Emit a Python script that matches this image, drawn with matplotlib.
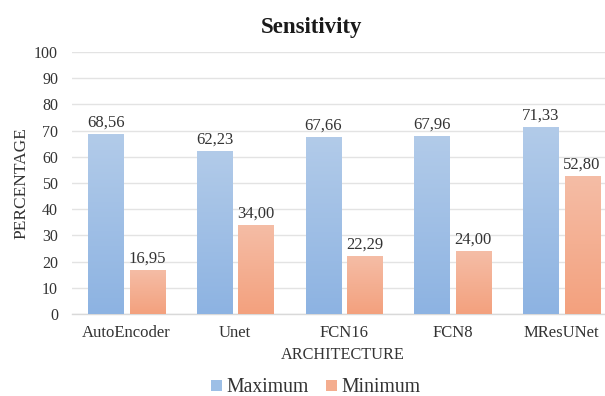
import numpy as np
import matplotlib
matplotlib.use("Agg")
import matplotlib.pyplot as plt
from matplotlib.patches import Patch

plt.rcParams['font.family'] = ['Liberation Serif', 'DejaVu Serif']

architectures = ['AutoEncoder', 'Unet', 'FCN16', 'FCN8', 'MResUNet']
maximum = [68.56, 62.23, 67.66, 67.96, 71.33]
minimum = [16.95, 34.00, 22.29, 24.00, 52.80]
series_names = ['Maximum', 'Minimum']

# gradient top / bottom colours, like the Excel fill
blue_top, blue_bot = '#b2cbe9', '#8db3e2'
orng_top, orng_bot = '#f5bda6', '#f3a17e'

W, H = 605, 396
fig = plt.figure(figsize=(W / 100, H / 100), dpi=100)
ax = fig.add_axes([72 / W, 82 / H, 533 / W, 262 / H])

x = np.arange(len(architectures))
w = 0.322
off = 0.19

def grad_bars(xpos, vals, top, bot):
    bars = ax.bar(xpos, vals, w, color='none', edgecolor='none', zorder=3)
    c1 = np.array(matplotlib.colors.to_rgb(top))
    c2 = np.array(matplotlib.colors.to_rgb(bot))
    t = np.linspace(0, 1, 64)[:, None]
    img = (c1 * (1 - t) + c2 * t)[:, None, :]
    for b in bars:
        x0, y0 = b.get_x(), b.get_y()
        im = ax.imshow(img, extent=[x0, x0 + b.get_width(), y0, y0 + b.get_height()],
                       aspect='auto', zorder=3, origin='upper', interpolation='bilinear')
        im.set_clip_path(b)
    return bars

grad_bars(x - off, maximum, blue_top, blue_bot)
grad_bars(x + off, minimum, orng_top, orng_bot)

for xs, vals in [(x - off, maximum), (x + off, minimum)]:
    for xi, v in zip(xs, vals):
        ax.text(xi, v + 1.3, f'{v:.2f}'.replace('.', ','), ha='center', va='bottom',
                fontsize=12, color='#333333', zorder=4)

ax.set_xlim(-0.5, -0.5 + 533 / 108.75)
ax.set_ylim(0, 100)
ax.set_yticks(np.arange(0, 101, 10))
ax.set_xticks(x)
ax.set_xticklabels(architectures)
ax.tick_params(axis='x', length=0, labelsize=12, colors='#333333', pad=8)
ax.tick_params(axis='y', length=0, labelsize=11.5, colors='#333333', pad=10)
ax.grid(axis='y', color='#e3e3e3', lw=1, zorder=0)
ax.set_axisbelow(True)
for s in ['top', 'right', 'left']:
    ax.spines[s].set_visible(False)
ax.spines['bottom'].set_color('#d9d9d9')
ax.spines['bottom'].set_linewidth(1)

ax.set_xlabel('ARCHITECTURE', fontsize=11.7, color='#333333', va='center')
ax.xaxis.set_label_coords(343 / W, 1 - 355 / H, transform=fig.transFigure)
ax.set_ylabel('PERCENTAGE', fontsize=12.5, color='#333333', va='center')
ax.yaxis.set_label_coords(21 / W, 1 - 183 / H, transform=fig.transFigure)

fig.text(312 / W, 1 - 27 / H, 'Sensitivity', ha='center', va='center', fontsize=16.5,
         fontweight='bold', color='#1a1a1a')

handles = [Patch(facecolor='#9dbfe6', edgecolor='none'),
           Patch(facecolor='#f4ad8f', edgecolor='none')]
leg = fig.legend(handles, series_names, loc='center', bbox_to_anchor=(316 / W, 1 - 388 / H),
                 ncol=2, frameon=False, fontsize=14.2,
                 handlelength=0.55, handleheight=0.55, handletextpad=0.25, columnspacing=0.85)
for t in leg.get_texts():
    t.set_fontfamily(['Liberation Serif'])
    t.set_color('#333333')

fig.savefig('out.png', dpi=100)
